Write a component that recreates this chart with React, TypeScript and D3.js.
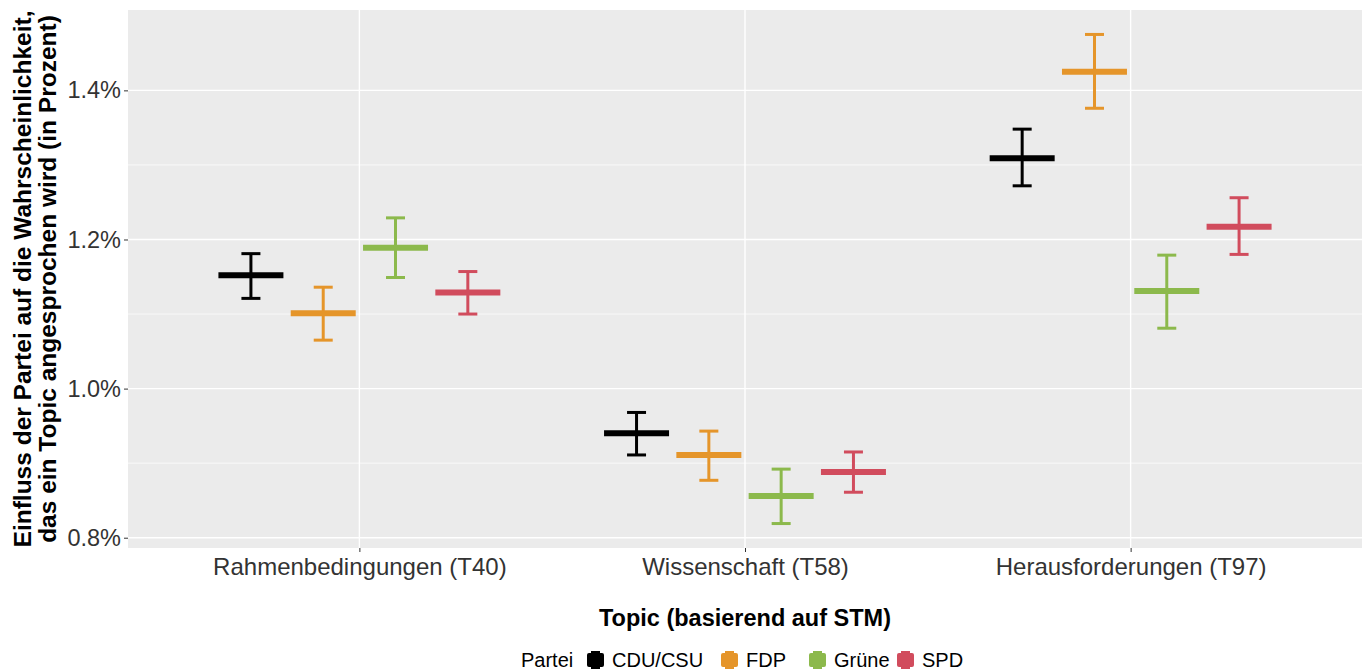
import React, { useEffect, useRef } from 'react'
import * as d3 from 'd3'

const topics = ['Rahmenbedingungen (T40)', 'Wissenschaft (T58)', 'Herausforderungen (T97)']
const parties = ['CDU/CSU', 'FDP', 'Grüne', 'SPD']
const colors = ['#000000', '#e5952a', '#8cb94c', '#d14c5d']

// estimate, lower, upper per topic (rows = party)
const estT40 = [1.152, 1.101, 1.189, 1.129]
const lowT40 = [1.121, 1.065, 1.149, 1.100]
const upT40 = [1.181, 1.136, 1.229, 1.157]

const estT58 = [0.940, 0.911, 0.856, 0.888]
const lowT58 = [0.911, 0.877, 0.819, 0.861]
const upT58 = [0.968, 0.943, 0.892, 0.915]

const estT97 = [1.309, 1.425, 1.131, 1.217]
const lowT97 = [1.272, 1.376, 1.081, 1.180]
const upT97 = [1.348, 1.475, 1.179, 1.256]

const yTicks = [0.8, 1.0, 1.2, 1.4]

export default function App() {
  const ref = useRef(null)

  useEffect(() => {
    const width = 1365, height = 672
    const margin = { left: 128, right: 3, top: 10, bottom: 124 }
    const svg = d3.select(ref.current)
    svg.selectAll('*').remove()
    svg.attr('width', width).attr('height', height)
    const font = 'Liberation Sans, Arial, Helvetica, sans-serif'

    const est = [estT40, estT58, estT97]
    const low = [lowT40, lowT58, lowT97]
    const up = [upT40, upT58, upT97]
    const rows = []
    topics.forEach((t, ti) => parties.forEach((p, pi) => {
      rows.push({ topic: t, party: p, pi, e: est[ti][pi], lo: low[ti][pi], hi: up[ti][pi] })
    }))

    const pw = width - margin.left - margin.right
    const ph = height - margin.top - margin.bottom
    const ymin = d3.min(rows, d => d.lo), ymax = d3.max(rows, d => d.hi)
    const pad = (ymax - ymin) * 0.05
    const y = d3.scaleLinear().domain([ymin - pad, ymax + pad]).range([ph, 0])
    const x = d3.scalePoint().domain(topics).range([0, pw]).padding(0.6)
    const step = x.step()
    const dodge = d3.scaleBand().domain(parties).range([-step * 0.375, step * 0.375])

    const g = svg.append('g').attr('transform', `translate(${margin.left},${margin.top})`)
    g.append('rect').attr('width', pw).attr('height', ph).attr('fill', '#ebebeb')

    // minor grid
    const minor = d3.range(0.9, 1.45, 0.2)
    g.selectAll('.minor').data(minor).enter().append('line')
      .attr('x1', 0).attr('x2', pw).attr('y1', d => y(d)).attr('y2', d => y(d))
      .attr('stroke', '#fff').attr('stroke-width', 0.7)
    g.selectAll('.majory').data(yTicks).enter().append('line')
      .attr('x1', 0).attr('x2', pw).attr('y1', d => y(d)).attr('y2', d => y(d))
      .attr('stroke', '#fff').attr('stroke-width', 1.4)
    g.selectAll('.majorx').data(topics).enter().append('line')
      .attr('y1', 0).attr('y2', ph).attr('x1', d => x(d)).attr('x2', d => x(d))
      .attr('stroke', '#fff').attr('stroke-width', 1.4)

    const bw = dodge.bandwidth()
    const cx = d => x(d.topic) + dodge(d.party) + bw / 2
    const marks = g.selectAll('.m').data(rows).enter().append('g')
    marks.append('line')
      .attr('x1', cx).attr('x2', cx).attr('y1', d => y(d.lo)).attr('y2', d => y(d.hi))
      .attr('stroke', d => colors[d.pi]).attr('stroke-width', 3)
    marks.append('line')
      .attr('x1', d => cx(d) - 9.5).attr('x2', d => cx(d) + 9.5).attr('y1', d => y(d.lo)).attr('y2', d => y(d.lo))
      .attr('stroke', d => colors[d.pi]).attr('stroke-width', 3)
    marks.append('line')
      .attr('x1', d => cx(d) - 9.5).attr('x2', d => cx(d) + 9.5).attr('y1', d => y(d.hi)).attr('y2', d => y(d.hi))
      .attr('stroke', d => colors[d.pi]).attr('stroke-width', 3)
    marks.append('line')
      .attr('x1', d => cx(d) - 32.5).attr('x2', d => cx(d) + 32.5).attr('y1', d => y(d.e)).attr('y2', d => y(d.e))
      .attr('stroke', d => colors[d.pi]).attr('stroke-width', 6)

    // y axis
    const ya = g.append('g').call(d3.axisLeft(y).tickValues(yTicks).tickSize(4).tickPadding(3).tickFormat(d => d3.format('.1f')(d) + '%'))
    ya.select('.domain').remove()
    ya.selectAll('line').attr('stroke', '#333')
    ya.selectAll('text').attr('font-family', font).attr('font-size', 23.5).attr('fill', '#333')

    const xa = g.append('g').attr('transform', `translate(0,${ph})`).call(d3.axisBottom(x).tickSize(4))
    xa.select('.domain').remove()
    xa.selectAll('line').attr('stroke', '#333')
    xa.selectAll('text').attr('font-family', font).attr('font-size', 24).attr('fill', '#333').attr('dy', '0.82em')

    // titles
    svg.append('text').attr('x', margin.left + pw / 2).attr('y', 626).attr('text-anchor', 'middle')
      .attr('font-family', font).attr('font-size', 23.5).attr('font-weight', 'bold').text('Topic (basierend auf STM)')
    const yt = svg.append('text').attr('transform', `translate(0,${margin.top + ph / 2}) rotate(-90)`)
      .attr('text-anchor', 'middle').attr('font-family', font).attr('font-size', 24.5).attr('font-weight', 'bold')
    yt.append('tspan').attr('x', 0).attr('y', 31).text('Einfluss der Partei auf die Wahrscheinlichkeit,')
    yt.append('tspan').attr('x', 0).attr('y', 56).text('das ein Topic angesprochen wird (in Prozent)')

    // legend
    const lg = svg.append('g').attr('transform', 'translate(0,660)')
    lg.append('text').attr('x', 521).attr('y', 7).attr('font-family', font).attr('font-size', 20).text('Partei')
    const keyX = [587, 721, 809, 897]
    parties.forEach((p, i) => {
      const k = lg.append('g').attr('transform', `translate(${keyX[i]},0)`)
      k.append('rect').attr('x', 0).attr('y', -7).attr('width', 17).attr('height', 14).attr('rx', 2).attr('fill', colors[i])
      k.append('line').attr('x1', 4).attr('x2', 13).attr('y1', -8).attr('y2', -8).attr('stroke', colors[i]).attr('stroke-width', 2)
      k.append('line').attr('x1', 4).attr('x2', 13).attr('y1', 8).attr('y2', 8).attr('stroke', colors[i]).attr('stroke-width', 2)
      k.append('text').attr('x', 25).attr('y', 7).attr('font-family', font).attr('font-size', 20).text(p)
    })
  }, [])

  return <svg ref={ref} style={{ position: 'absolute', left: 0, top: 0 }} />
}
